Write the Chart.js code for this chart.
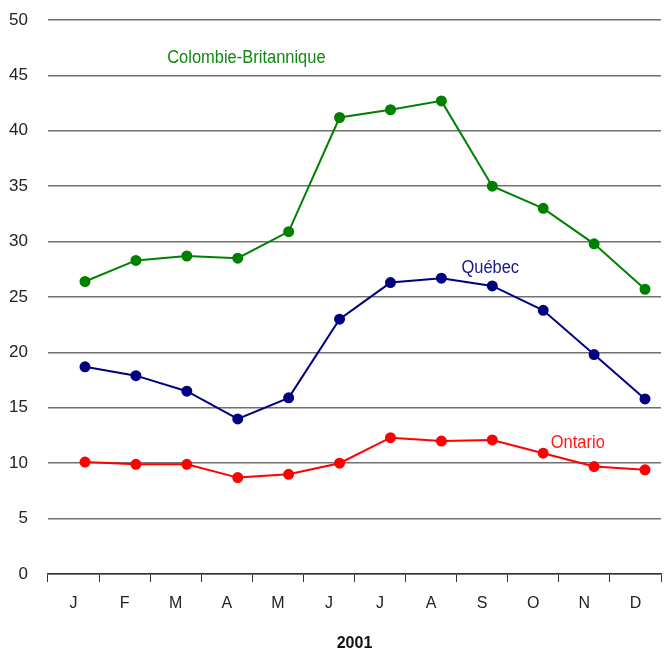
<!DOCTYPE html>
<html>
<head>
<meta charset="utf-8">
<script src="https://cdn.jsdelivr.net/npm/chart.js@4/dist/chart.umd.min.js"></script>
<style>
  html, body { margin: 0; padding: 0; background: #fff; }
  #wrap { width: 664px; height: 651px; }
</style>
</head>
<body>
<div id="wrap"><canvas id="chart" width="664" height="651"></canvas></div>
<script>
// Months of 2001
const months = ['J', 'F', 'M', 'A', 'M', 'J', 'J', 'A', 'S', 'O', 'N', 'D'];
// Series values
const colombieBritannique = [26.4, 28.3, 28.7, 28.5, 30.9, 41.2, 41.9, 42.7, 35.0, 33.0, 29.8, 25.7];
const quebec = [18.7, 17.9, 16.5, 14.0, 15.9, 23.0, 26.3, 26.7, 26.0, 23.8, 19.8, 15.8];
const ontario = [10.1, 9.9, 9.9, 8.7, 9.0, 10.0, 12.3, 12.0, 12.1, 10.9, 9.7, 9.4];
const yTicks = [0, 5, 10, 15, 20, 25, 30, 35, 40, 45, 50];

const FONT = '"Liberation Sans Narrow", "Arial Narrow", "Liberation Sans", sans-serif';

function toPoints(arr) {
  return arr.map((v, i) => ({ x: i, y: v }));
}

function series(label, values, color) {
  return {
    label: label,
    data: toPoints(values),
    xAxisID: 'x2',
    borderColor: color,
    backgroundColor: color,
    pointBackgroundColor: color,
    pointBorderColor: color,
    borderWidth: 2,
    pointRadius: 4.5,
    pointHoverRadius: 4.5,
    tension: 0
  };
}

// Series names written next to the lines (squeezed a bit, the original face is condensed)
const seriesLabels = {
  id: 'seriesLabels',
  afterDatasetsDraw(chart) {
    const ctx = chart.ctx;
    const xs = chart.scales.x2, ys = chart.scales.y;
    const items = [
      { text: 'Colombie-Britannique', x: 3.17, y: 46.6, color: '#118811' },
      { text: 'Québec', x: 7.96, y: 27.6, color: '#1a1a8c' },
      { text: 'Ontario', x: 9.68, y: 11.8, color: '#ff1a1a' }
    ];
    ctx.save();
    ctx.font = '18px ' + FONT;
    ctx.textAlign = 'center';
    ctx.textBaseline = 'middle';
    items.forEach(it => {
      ctx.save();
      ctx.translate(xs.getPixelForValue(it.x), ys.getPixelForValue(it.y));
      ctx.scale(0.915, 1);
      ctx.fillStyle = it.color;
      ctx.fillText(it.text, 0, 0);
      ctx.restore();
    });
    ctx.restore();
  }
};

const ctx = document.getElementById('chart').getContext('2d');
new Chart(ctx, {
  type: 'line',
  data: {
    labels: months,
    datasets: [
      series('Colombie-Britannique', colombieBritannique, '#008000'),
      series('Québec', quebec, '#000080'),
      series('Ontario', ontario, '#ff0000')
    ]
  },
  options: {
    responsive: false,
    animation: false,
    layout: { autoPadding: false, padding: { top: 20, right: 3, left: 0, bottom: 0 } },
    plugins: {
      legend: { display: false },
      tooltip: { enabled: false }
    },
    scales: {
      x: {
        type: 'category',
        offset: true,
        grid: {
          offset: true,
          drawOnChartArea: false,
          drawTicks: true,
          tickLength: 8,
          color: '#333',
          lineWidth: 1
        },
        border: { display: true, color: '#333', width: 1.5 },
        ticks: { color: '#222', font: { family: FONT, size: 16 }, padding: 12, maxRotation: 0 },
        title: {
          display: true,
          text: '2001',
          color: '#111',
          font: { family: FONT, size: 16, weight: 'bold' },
          padding: { top: 0, bottom: -2 }
        },
        afterFit(scale) {
          scale.height = 77;
          scale.paddingLeft = 0;
          scale.paddingRight = 0;
        }
      },
      x2: {
        type: 'linear',
        display: false,
        min: -0.727,
        max: 11.314
      },
      y: {
        min: 0,
        max: 50,
        afterBuildTicks(scale) { scale.ticks = yTicks.map(v => ({ value: v })); },
        grid: { color: '#707070', lineWidth: 1.5, drawTicks: false },
        border: { display: false },
        ticks: { color: '#222', font: { family: FONT, size: 17 }, padding: 20 },
        afterFit(scale) {
          scale.width = 48;
          scale.paddingTop = 0;
          scale.paddingBottom = 0;
        }
      }
    }
  },
  plugins: [seriesLabels]
});
</script>
</body>
</html>
